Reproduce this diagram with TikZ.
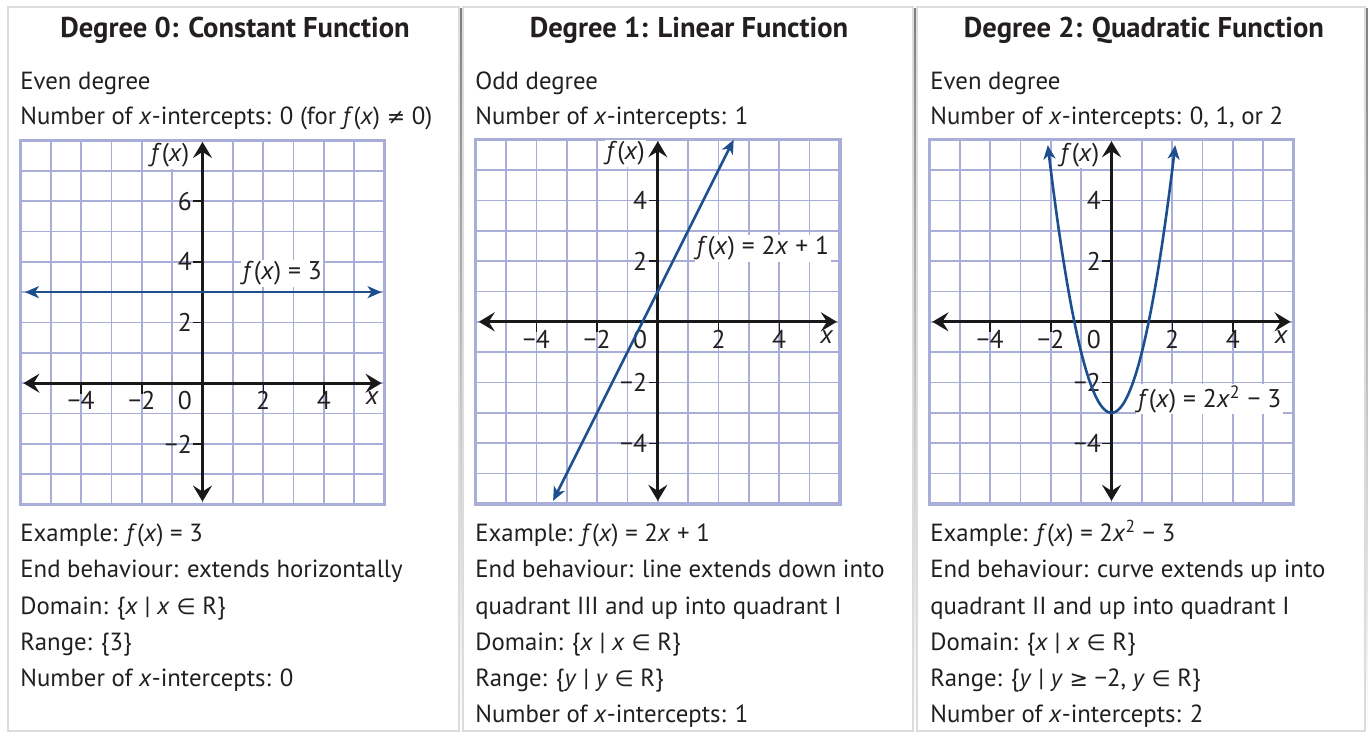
\documentclass[tikz,border=0pt]{standalone}
\usepackage{fontspec}
\setmainfont{PT Sans}
\newfontfamily\symf{DejaVu Sans}
\usetikzlibrary{arrows.meta}
\definecolor{ink}{HTML}{231f20}
\definecolor{gridc}{HTML}{a9aed8}
\definecolor{curvec}{HTML}{1d4f8f}
\definecolor{edge}{HTML}{dcdcdc}
\definecolor{shade}{HTML}{c8c8c8}
\newcommand{\vx}{\textit{x}}
\newcommand{\vy}{\textit{y}}
\newcommand{\fx}{\textit{f}(\textit{x})}
\newcommand{\sy}[1]{{\symf\fontsize{11}{12}\selectfont #1}}

\begin{document}
\begin{tikzpicture}[x=0.5pt, y=-0.5pt, font=\fontsize{12.4}{14}\selectfont, ink,
  heading/.style={anchor=base, inner sep=0pt, font=\fontsize{14.3}{16}\selectfont\bfseries},
  body/.style={anchor=base west, inner sep=0pt},
  gridline/.style={gridc, line width=0.8pt},
  gridframe/.style={gridc, line width=1.6pt},
  fnaxis/.style={black!90, line width=1.5pt,
    {Stealth[length=8pt, width=9.5pt, inset=3pt]}-{Stealth[length=8pt, width=9.5pt, inset=3pt]}},
  fncurve/.style={curvec, line width=1.3pt,
    {Stealth[length=7pt, width=6pt, inset=2pt]}-{Stealth[length=7pt, width=6pt, inset=2pt]}},
  axtick/.style={black!90, line width=0.7pt},
  ticklab/.style={inner sep=0.6pt, font=\fontsize{12.8}{14}\selectfont},
  flabel/.style={fill=white, inner sep=0.8pt, font=\fontsize{12.8}{14}\selectfont}]
  \useasboundingbox (0,0) rectangle (1368,733);

  % Panels
  \fill[shade] (11,9) rectangle (462,733);
  \draw[edge, fill=white, line width=0.8pt] (8,7) rectangle (459,731);
  \fill[shade] (466,9) rectangle (916,733);
  \draw[edge, fill=white, line width=0.8pt] (463,7) rectangle (913,731);
  \fill[shade] (920,9) rectangle (1368,733);
  \draw[edge, fill=white, line width=0.8pt] (917,7) rectangle (1365,731);

  % Degree 0
  \node[heading] (p1-head) at (235,38) {Degree 0: Constant Function};
  \node[body] (p1-a) at (20,90) {Even degree};
  \node[body] (p1-b) at (20,125) {Number of \vx-intercepts: 0 (for \fx{} \sy{≠} 0)};
  \node[body] (p1-c) at (20,541.5) {Example: \fx{} = 3};
  \node[body] (p1-d) at (20,577.5) {End behaviour: extends horizontally};
  \node[body] (p1-e) at (20,614.5) {Domain: \{\vx{} | \vx{} \sy{∈} R\}};
  \node[body] (p1-f) at (20,650.5) {Range: \{3\}};
  \node[body] (p1-g) at (20,686.5) {Number of \vx-intercepts: 0};

  \begin{scope}[shift={(101.25pt,-191.6pt)}, x=15.175pt, y=15.175pt]
    \foreach \i in {-5,...,5} \draw[gridline] (\i,-4) -- (\i,8);
    \foreach \j in {-3,...,7} \draw[gridline] (-6,\j) -- (6,\j);
    \draw[gridframe] (-6,-4) rectangle (6,8);
    \draw[fnaxis] (-5.9,0) -- (5.9,0);
    \draw[fnaxis] (0,-3.9) -- (0,7.95);
    \foreach \t/\lab [count=\k] in {-4/−4, -2/−2, 2/2, 4/4} {
      \draw[axtick] (\t,0) -- (\t,-0.35);
      \node[ticklab, anchor=north] (g1-x\k) at (\t,-0.22) {\lab};
    }
    \foreach \t/\lab [count=\k] in {6/6, 4/4, 2/2, -2/−2} {
      \draw[axtick] (0,\t) -- (-0.3,\t);
      \node[ticklab, anchor=east] (g1-y\k) at (-0.3,\t) {\lab};
    }
    \node[ticklab, anchor=north east] (g1-o) at (-0.3,-0.22) {0};
    \node[ticklab] (g1-xl) at (5.6,-0.5) {\vx};
    \node[flabel] (g1-fl) at (-1.07,7.5) {\fx};
    \draw[fncurve] (-5.85,3) -- (5.9,3);
    \node[flabel] (g1-eq) at (2.63,3.62) {\fx{} = 3};
  \end{scope}

  % Degree 1
  \node[heading] (p2-head) at (689,38) {Degree 1: Linear Function};
  \node[body] (p2-a) at (475,90) {Odd degree};
  \node[body] (p2-b) at (475,125) {Number of \vx-intercepts: 1};
  \node[body] (p2-c) at (475,541.5) {Example: \fx{} = 2\vx{} + 1};
  \node[body] (p2-d) at (475,577.5) {End behaviour: line extends down into};
  \node[body] (p2-e) at (475,614) {quadrant III and up into quadrant I};
  \node[body] (p2-f) at (475,650.5) {Domain: \{\vx{} | \vx{} \sy{∈} R\}};
  \node[body] (p2-g) at (475,686.5) {Range: \{\vy{} | \vy{} \sy{∈} R\}};
  \node[body] (p2-h) at (475,722.5) {Number of \vx-intercepts: 1};

  \begin{scope}[shift={(328.9pt,-160.9pt)}, x=15.175pt, y=15.175pt]
    \foreach \i in {-5,...,5} \draw[gridline] (\i,-6) -- (\i,6);
    \foreach \j in {-5,...,5} \draw[gridline] (-6,\j) -- (6,\j);
    \draw[gridframe] (-6,-6) rectangle (6,6);
    \draw[fnaxis] (-5.9,0) -- (5.9,0);
    \draw[fnaxis] (0,-5.9) -- (0,5.95);
    \foreach \t/\lab [count=\k] in {-4/−4, -2/−2, 2/2, 4/4} {
      \draw[axtick] (\t,0) -- (\t,-0.35);
      \node[ticklab, anchor=north] (g2-x\k) at (\t,-0.22) {\lab};
    }
    \foreach \t/\lab [count=\k] in {4/4, 2/2, -2/−2, -4/−4} {
      \draw[axtick] (0,\t) -- (-0.3,\t);
      \node[ticklab, anchor=east] (g2-y\k) at (-0.3,\t) {\lab};
    }
    \node[ticklab, anchor=north east] (g2-o) at (-0.3,-0.22) {0};
    \node[ticklab] (g2-xl) at (5.57,-0.49) {\vx};
    \node[flabel] (g2-fl) at (-1.06,5.56) {\fx};
    \draw[fncurve] (-3.45,-5.9) -- (2.5,6);
    \node[flabel] (g2-eq) at (3.46,2.42) {\fx{} = 2\vx{} + 1};
  \end{scope}

  % Degree 2
  \node[heading] (p3-head) at (1144,38) {Degree 2: Quadratic Function};
  \node[body] (p3-a) at (930,90) {Even degree};
  \node[body] (p3-b) at (930,125) {Number of \vx-intercepts: 0, 1, or 2};
  \node[body] (p3-c) at (930,541.5) {Example: \fx{} = 2\vx\textsuperscript{2} − 3};
  \node[body] (p3-d) at (930,577.5) {End behaviour: curve extends up into};
  \node[body] (p3-e) at (930,614) {quadrant II and up into quadrant I};
  \node[body] (p3-f) at (930,650.5) {Domain: \{\vx{} | \vx{} \sy{∈} R\}};
  \node[body] (p3-g) at (930,686.5) {Range: \{\vy{} | \vy{} \sy{≥} −2, \vy{} \sy{∈} R\}};
  \node[body] (p3-h) at (930,722.5) {Number of \vx-intercepts: 2};

  \begin{scope}[shift={(555.75pt,-160.9pt)}, x=15.175pt, y=15.175pt]
    \foreach \i in {-5,...,5} \draw[gridline] (\i,-6) -- (\i,6);
    \foreach \j in {-5,...,5} \draw[gridline] (-6,\j) -- (6,\j);
    \draw[gridframe] (-6,-6) rectangle (6,6);
    \draw[fnaxis] (-5.9,0) -- (5.9,0);
    \draw[fnaxis] (0,-5.9) -- (0,5.95);
    \foreach \t/\lab [count=\k] in {-4/−4, -2/−2, 2/2, 4/4} {
      \draw[axtick] (\t,0) -- (\t,-0.35);
      \node[ticklab, anchor=north] (g3-x\k) at (\t,-0.22) {\lab};
    }
    \foreach \t/\lab [count=\k] in {4/4, 2/2, -2/−2, -4/−4} {
      \draw[axtick] (0,\t) -- (-0.3,\t);
      \node[ticklab, anchor=east] (g3-y\k) at (-0.3,\t) {\lab};
    }
    \node[ticklab, anchor=north east] (g3-o) at (-0.3,-0.22) {0};
    \node[ticklab] (g3-xl) at (5.6,-0.5) {\vx};
    \node[flabel] (g3-fl) at (-1.04,5.5) {\fx};
    \draw[fncurve, domain=-2.1:2.1, samples=60, smooth] plot (\x, {2*\x*\x-3});
    \node[flabel] (g3-eq) at (3.23,-2.55) {\fx{} = 2\vx\textsuperscript{2} − 3};
  \end{scope}
\end{tikzpicture}
\end{document}
